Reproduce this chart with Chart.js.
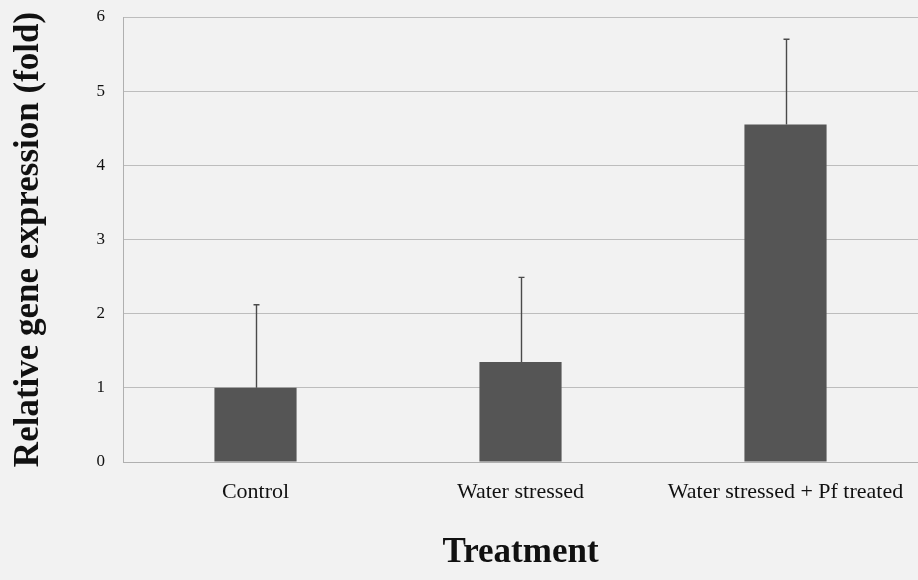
<!DOCTYPE html>
<html>
<head>
<meta charset="utf-8">
<script src="https://cdn.jsdelivr.net/npm/chart.js@4"></script>
<style>
  html, body { margin: 0; padding: 0; background: #f2f2f2; }
  #wrap { width: 918px; height: 580px; }
</style>
</head>
<body>
<div id="wrap"><canvas id="c" width="918" height="580"></canvas></div>
<script>
// Treatment groups and relative expression (fold change) with upper error
const categories = ['Control', 'Water stressed', 'Water stressed + Pf treated'];
const expression = [1.0, 1.35, 4.55];
const errorUp = [1.12, 1.14, 1.15];
const yTicks = [0, 1, 2, 3, 4, 5, 6];

const serif = '"Liberation Serif", "Times New Roman", serif';

// Draws the upward error whisker with a small cap above each bar
const errorBars = {
  id: 'errorBars',
  afterDatasetsDraw(chart) {
    const meta = chart.getDatasetMeta(0);
    const y = chart.scales.y;
    const ctx = chart.ctx;
    ctx.save();
    ctx.strokeStyle = '#4a4a4a';
    ctx.lineWidth = 1.4;
    meta.data.forEach((bar, i) => {
      const x = Math.round(bar.x) + 0.5;
      const yTop = y.getPixelForValue(expression[i] + errorUp[i]);
      const yBase = y.getPixelForValue(expression[i]);
      ctx.beginPath();
      ctx.moveTo(x, yBase);
      ctx.lineTo(x, yTop);
      ctx.moveTo(x - 3, yTop);
      ctx.lineTo(x + 3, yTop);
      ctx.stroke();
    });
    ctx.restore();
  }
};

new Chart(document.getElementById('c'), {
  type: 'bar',
  data: {
    labels: categories,
    datasets: [{
      data: expression,
      backgroundColor: '#555555',
      borderWidth: 0,
      barPercentage: 0.31,
      categoryPercentage: 1.0
    }]
  },
  options: {
    responsive: false,
    animation: false,
    layout: { padding: { top: 17, right: 0, bottom: 2, left: 0 } },
    plugins: { legend: { display: false }, tooltip: { enabled: false } },
    scales: {
      x: {
        grid: { display: false, drawTicks: false },
        border: { display: true, color: '#b0b0b0', width: 1 },
        ticks: { color: '#111', padding: 17, font: { family: serif, size: 22 } },
        title: {
          display: true, text: 'Treatment', color: '#111',
          font: { family: serif, size: 35, weight: 'bold', lineHeight: 1.2 }
        },
        afterFit(s) { s.height = 116; s.paddingLeft = 0; s.paddingRight = 0; }
      },
      y: {
        min: 0, max: 6,
        afterBuildTicks(s) { s.ticks = yTicks.map(v => ({ value: v })); },
        grid: { color: '#bdbdbd', lineWidth: 1, drawTicks: false },
        border: { display: true, color: '#b0b0b0', width: 1 },
        ticks: { color: '#111', padding: 18, font: { family: serif, size: 17, lineHeight: 0.5 } },
        title: {
          display: true, text: 'Relative gene expression (fold)', color: '#111',
          font: { family: serif, size: 35, weight: 'bold', lineHeight: 1.4 }
        },
        afterFit(s) { s.width = 123; s.paddingTop = 0; s.paddingBottom = 0; }
      }
    }
  },
  plugins: [errorBars]
});
</script>
</body>
</html>
